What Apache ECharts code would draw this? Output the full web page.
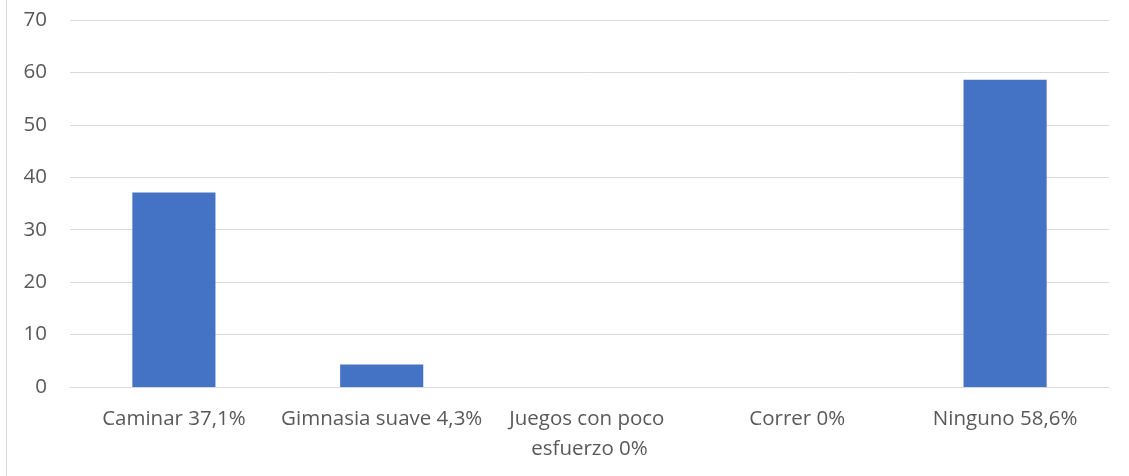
<!DOCTYPE html>
<html>
<head>
<meta charset="utf-8">
<script src="https://cdn.jsdelivr.net/npm/echarts@6/dist/echarts.min.js"></script>
<style>
  html, body { margin: 0; padding: 0; background: #ffffff; }
  #chart { width: 1129px; height: 476px; }
</style>
</head>
<body>
<div id="chart"></div>
<script>
// Activity categories and the share of people for each one (percent)
const categories = ['Caminar 37,1%', 'Gimnasia suave 4,3%', 'Juegos con poco esfuerzo 0%', 'Correr 0%', 'Ninguno 58,6%'];
const values = [37.1, 4.3, 0, 0, 58.6];
const yTicks = [0, 10, 20, 30, 40, 50, 60, 70];

const FONT = 'Open Sans';
const TEXT = '#595959';

const chart = echarts.init(document.getElementById('chart'), null, { renderer: 'canvas' });
chart.setOption({
  animation: false,
  backgroundColor: '#ffffff',
  textStyle: { fontFamily: FONT },
  graphic: [{
    type: 'line',
    shape: { x1: 6.5, y1: 0, x2: 6.5, y2: 476 },
    style: { stroke: '#d9d9d9', lineWidth: 1 }
  }],
  grid: { left: 70, right: 20, top: 20, bottom: 89, containLabel: false },
  xAxis: {
    type: 'category',
    data: categories,
    axisLine: { show: true, lineStyle: { color: '#d9d9d9', width: 1 } },
    axisTick: { show: false },
    axisLabel: {
      color: TEXT, fontFamily: FONT, fontSize: 20.5, margin: 17,
      width: 207, overflow: 'break', lineHeight: 30, interval: 0
    }
  },
  yAxis: {
    type: 'value',
    min: yTicks[0],
    max: yTicks[yTicks.length - 1],
    interval: 10,
    axisLine: { show: false },
    axisTick: { show: false },
    splitLine: { lineStyle: { color: '#d9d9d9', width: 1 } },
    axisLabel: { color: TEXT, fontFamily: FONT, fontSize: 20.5, margin: 23 }
  },
  series: [{
    type: 'bar',
    data: values,
    barWidth: '40%',
    itemStyle: { color: '#4472c4' }
  }]
});
</script>
</body>
</html>
